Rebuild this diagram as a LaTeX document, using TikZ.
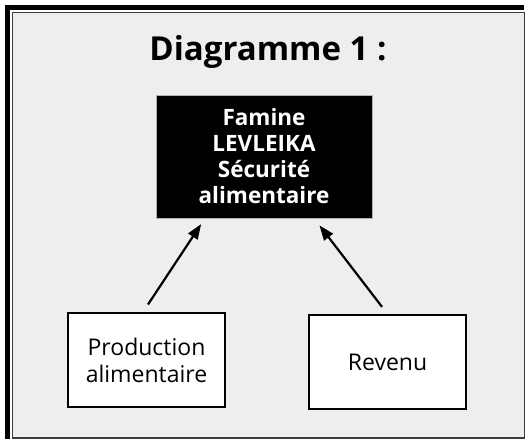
\documentclass[tikz,border=0pt]{standalone}
\usepackage{fontspec}
\setmainfont{Open Sans}
\usetikzlibrary{arrows.meta}
\definecolor{bggray}{RGB}{238,238,238}
\definecolor{framegray}{RGB}{60,60,60}
\begin{document}
\begin{tikzpicture}[x=1pt,y=-1pt,
  box/.style={draw=black, line width=2pt, fill=white, minimum width=157pt, minimum height=94pt,
    align=center, inner sep=0pt, font=\fontsize{23}{27}\selectfont},
  keybox/.style={fill=black, draw=gray!60, line width=0.5pt, text=white, minimum width=216pt,
    minimum height=123pt, align=center, inner sep=0pt, font=\bfseries\fontsize{22.5}{26}\selectfont},
  titlestyle/.style={font=\bfseries\fontsize{33}{38}\selectfont, anchor=base, inner sep=0pt},
  arr/.style={-{Triangle[length=15pt,width=11pt]}, line width=2.2pt}]
\useasboundingbox (0,0) rectangle (527,440);
\fill[white] (0,0) rectangle (527,440);
\draw[fill=bggray, draw=framegray, line width=1.5pt] (12.5,12.5) rectangle (524.5,438);
\fill[black] (5,5) rectangle (524,10);
\fill[black] (5,5) rectangle (10,439);
\node[titlestyle] (title) at (268,60) {Diagramme 1 :};
\node[keybox] (fam) at (264,156.5) {Famine\\LEVLEIKA\\Sécurité\\alimentaire};
\node[box] (prod) at (146.5,360) {Production\\alimentaire};
\node[box] (rev) at (387.5,362) {Revenu};
\draw[arr, shorten <=9pt, shorten >=7pt] ([xshift=-3.5pt]prod.north) -- ([xshift=-59pt]fam.south);
\draw[arr, shorten <=9pt, shorten >=9pt] (rev.north) -- ([xshift=50pt]fam.south);
\end{tikzpicture}
\end{document}
